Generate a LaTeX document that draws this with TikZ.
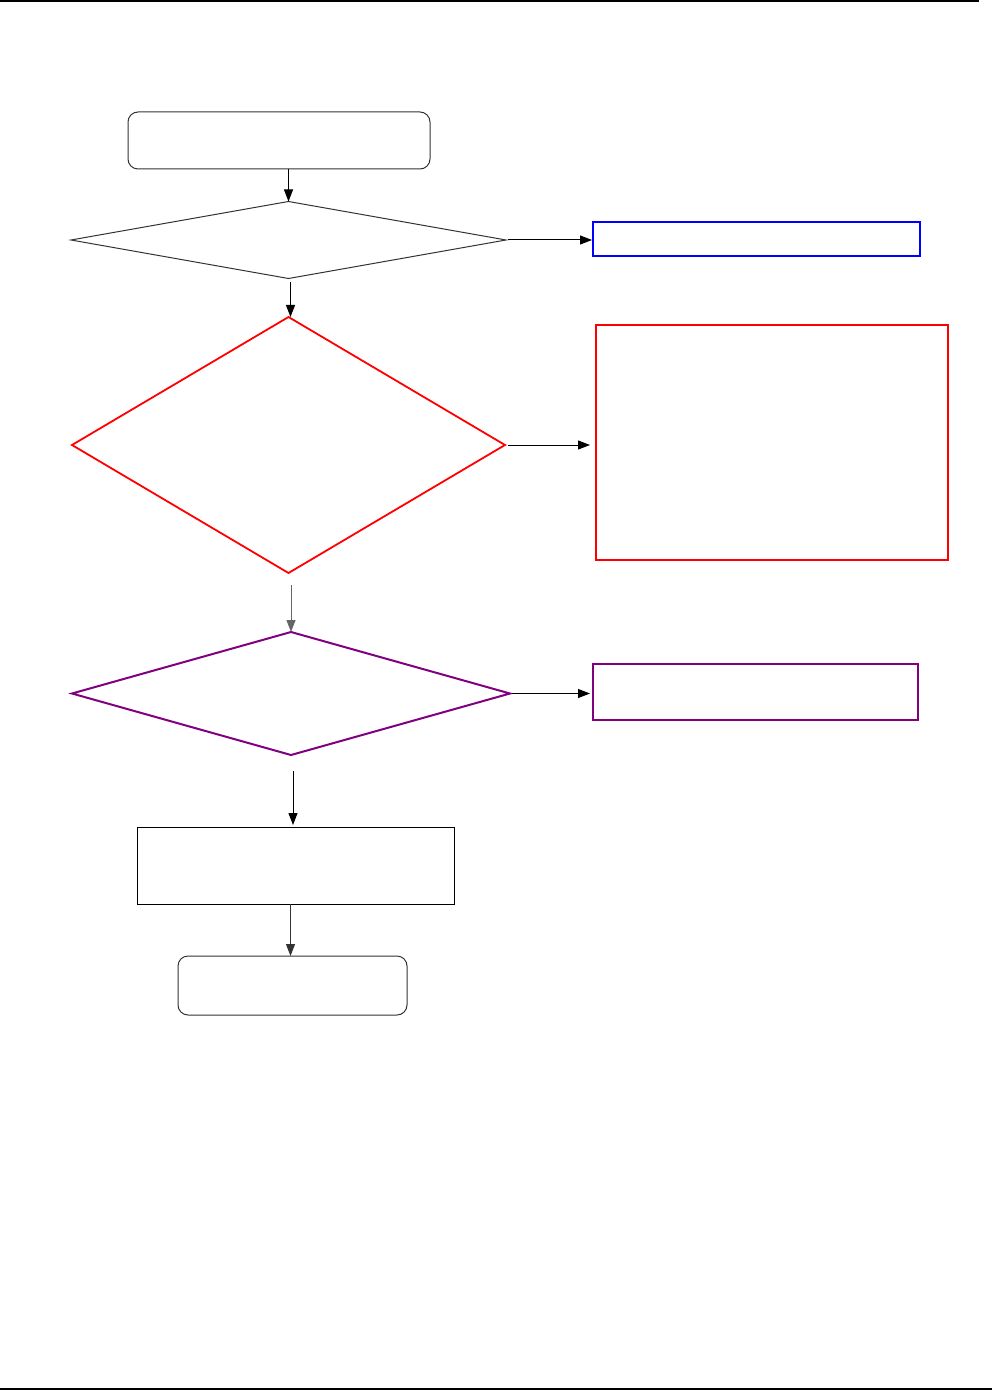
\documentclass[tikz,border=0pt]{standalone}
\usetikzlibrary{shapes.geometric,arrows.meta}
\definecolor{myblue}{RGB}{0,0,255}
\definecolor{myred}{RGB}{255,0,0}
\definecolor{mypurple}{RGB}{128,0,128}
\begin{document}
\begin{tikzpicture}[x=0.5pt,y=-0.5pt,
  every node/.style={inner sep=0pt,outer sep=0pt},
  term/.style={draw=black!80,line width=0.5pt,rectangle,rounded corners=5pt},
  decide/.style={draw,diamond,line width=0.5pt},
  box/.style={draw,rectangle,line width=0.5pt},
  arr/.style={draw=black,line width=0.5pt,-{Triangle[length=6pt,width=4.5pt]}}]
\useasboundingbox (0,0) rectangle (995,1390);
\draw[line width=1pt] (0,1) -- (979,1);
\draw[line width=1pt] (0,1389) -- (992,1389);

\node[term,minimum width=151pt,minimum height=28.5pt] (start) at (279,140.5) {};
\node[decide,draw=black!80,minimum width=217.5pt,minimum height=38.5pt] (d1) at (288.5,240) {};
\node[box,draw=myblue,line width=1pt,minimum width=163.5pt,minimum height=17pt] (blue) at (756.5,239) {};
\node[decide,draw=myred,line width=0.9pt,minimum width=216.5pt,minimum height=128pt] (d2) at (288.5,445) {};
\node[box,draw=myred,line width=0.9pt,minimum width=176pt,minimum height=117.5pt] (red) at (772,442.5) {};
\node[decide,draw=mypurple,line width=1pt,minimum width=219pt,minimum height=61.5pt] (d3) at (291,693.5) {};
\node[box,draw=mypurple,line width=1pt,minimum width=162.5pt,minimum height=28pt] (purple) at (755.5,692) {};
\node[box,minimum width=158.5pt,minimum height=38.5pt] (proc) at (295.5,865.5) {};
\node[term,minimum width=114.5pt,minimum height=29.5pt] (end) at (292.5,985.5) {};

\draw[arr] (start.south -| d1.north) -- (d1.north);
\draw[arr,shorten <=2pt] ([xshift=1pt]d1.south) -- ([xshift=1pt]d1.south |- d2.north);
\draw[arr,draw=black!60,shorten <=6pt] (d3.north |- d2.south) -- (d3.north);
\draw[arr,shorten <=8pt,shorten >=1pt] ([xshift=1pt]d3.south) -- ([xshift=1pt]d3.south |- proc.north);
\draw[arr,draw=black!80] ([xshift=-2.5pt]proc.south) -- ([xshift=-2.5pt]proc.south |- end.north);
\draw[arr,shorten <=1pt,shorten >=0.5pt] (d1.east) -- (d1.east -| blue.west);
\draw[arr,shorten <=1.5pt,shorten >=3pt] (d2.east) -- (d2.east -| red.west);
\draw[arr,shorten <=1pt,shorten >=1.5pt] (d3.east) -- (d3.east -| purple.west);
\end{tikzpicture}
\end{document}
